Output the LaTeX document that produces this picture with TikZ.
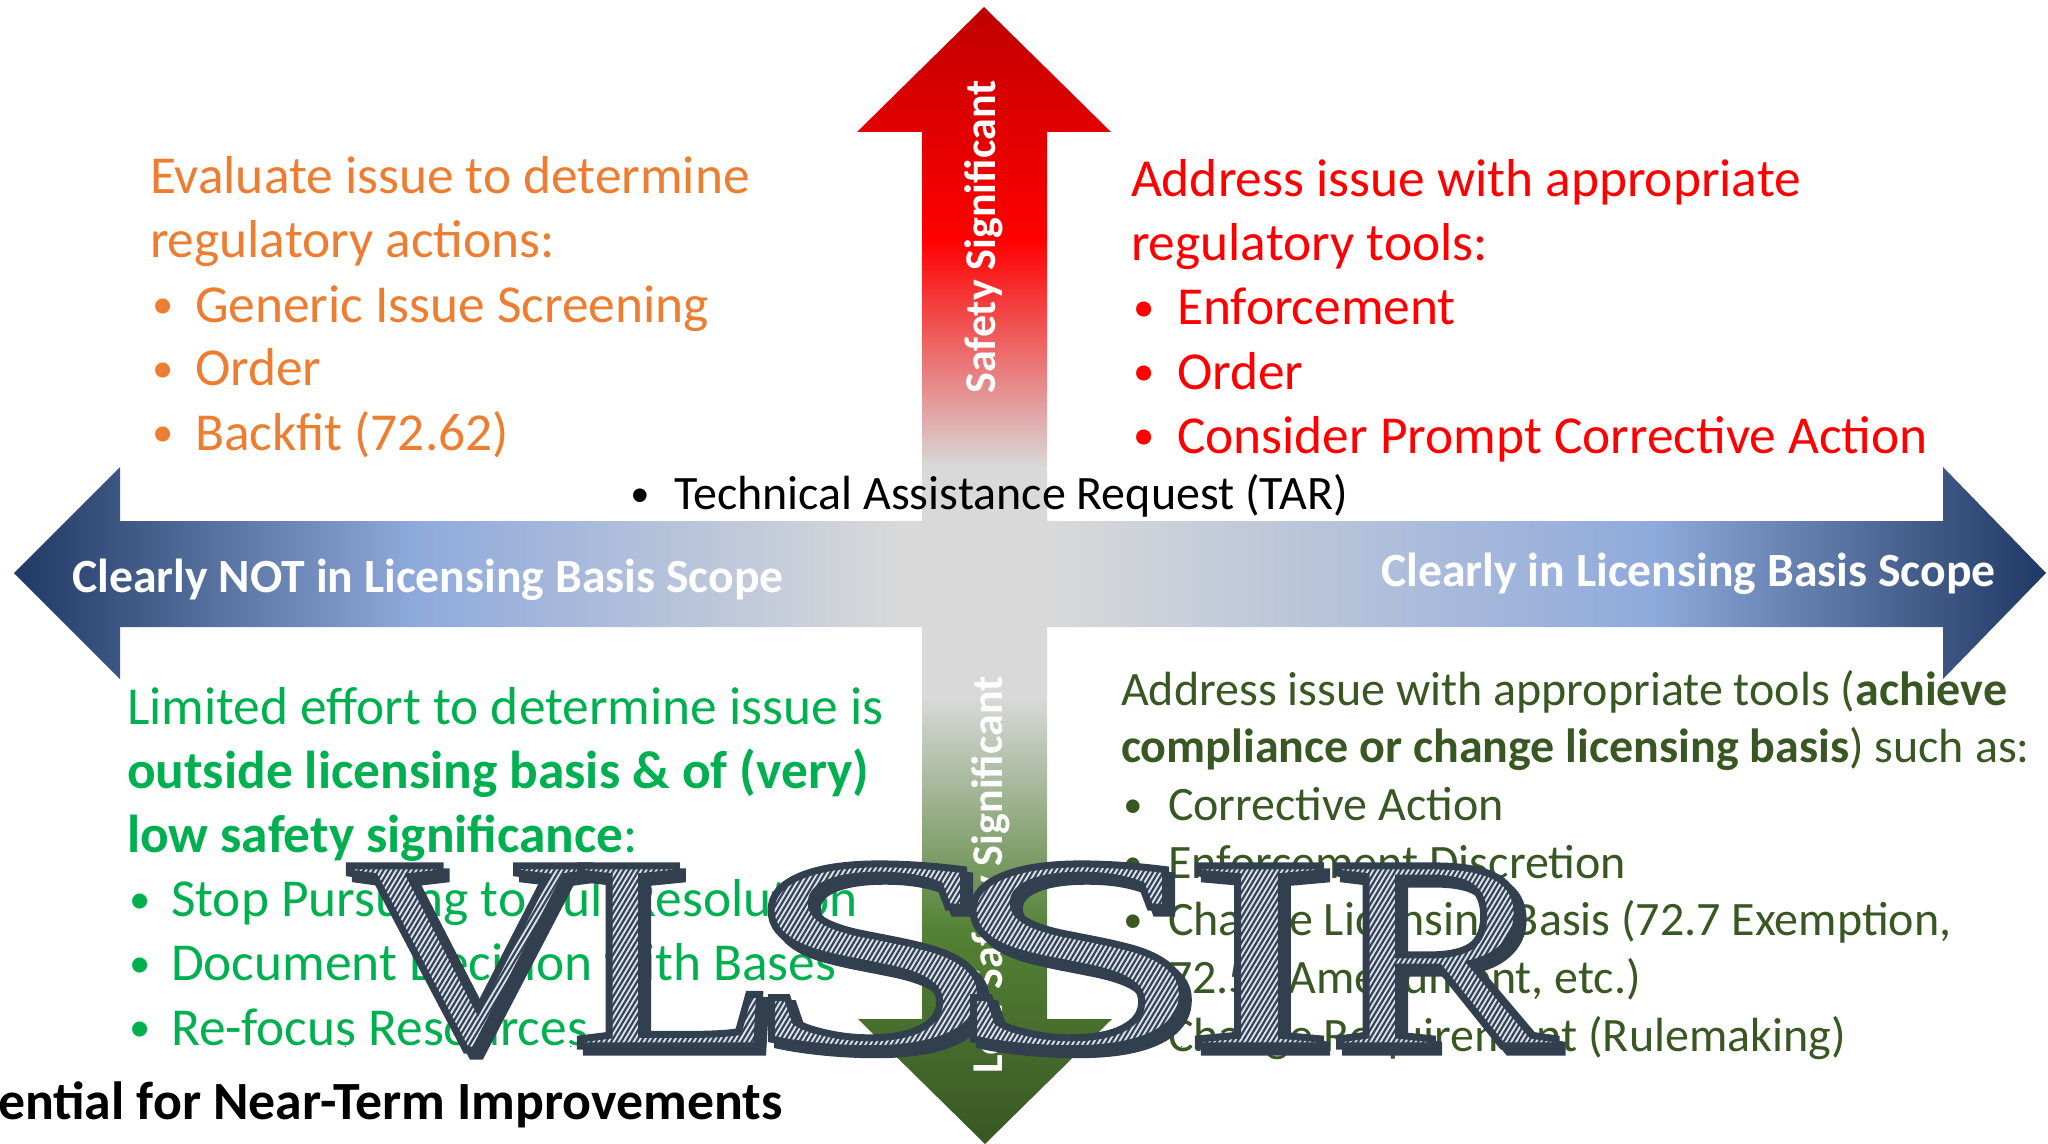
\documentclass[tikz,border=0pt]{standalone}
\usepackage{fontspec}
\usepackage{graphicx}
\setmainfont{Carlito}
\newfontfamily\wmfont[FakeStretch=1.25]{Liberation Serif}
\newfontfamily\wmwide[FakeStretch=1.78]{Liberation Serif}
\newfontfamily\wmmid[FakeStretch=1.7]{Liberation Serif}
\usepackage{xcolor}
\definecolor{navyc}{HTML}{1F3864}
\definecolor{lblue}{HTML}{8FAADC}
\definecolor{lgray}{HTML}{D9D9D9}
\definecolor{dred}{HTML}{C00000}
\definecolor{bred}{HTML}{FF0000}
\definecolor{dgreen}{HTML}{385723}
\definecolor{mgreen}{HTML}{548235}
\definecolor{orangec}{HTML}{ED7D31}
\definecolor{greenc}{HTML}{00B050}
\definecolor{wmdark}{HTML}{323F4F}

% arrow fills, fading to grey at the centre
\pgfdeclarehorizontalshading{lbarshade}{100bp}{color(0bp)=(navyc); color(25bp)=(navyc); color(45.8bp)=(lblue); color(70.7bp)=(lgray); color(100bp)=(lgray)}
\pgfdeclarehorizontalshading{rbarshade}{100bp}{color(0bp)=(lgray); color(28.1bp)=(lgray); color(56.4bp)=(lblue); color(75bp)=(navyc); color(100bp)=(navyc)}
\pgfdeclareverticalshading{ubarshade}{100bp}{color(0bp)=(lgray); color(34.4bp)=(lgray); color(54.5bp)=(bred); color(75bp)=(dred); color(100bp)=(dred)}
\pgfdeclareverticalshading{dbarshade}{100bp}{color(0bp)=(dgreen); color(25bp)=(dgreen); color(43.8bp)=(mgreen); color(64.2bp)=(lgray); color(100bp)=(lgray)}

\newcommand\bigtxt{\fontsize{26.7pt}{31pt}\selectfont}
\newcommand\smalltxt{\fontsize{24pt}{28pt}\selectfont}
\newcommand\bul[1]{\makebox[#1][l]{\hspace{0.05em}\raisebox{0.06em}{\scalebox{0.8}{\textbullet}}}}

% hatched letters of the watermark
\def\hatchstripes{0.87 0.9 0.94 rg -15 -15 190 130 re f 0.22 0.27 0.34 RG 1.1 w}
\foreach \k in {0,...,110}{%
  \pgfmathsetmacro\xa{-85+2.5*\k}%
  \pgfmathsetmacro\xb{\xa+78}%
  \xdef\hatchstripes{\hatchstripes\space\xa\space -15 m \xb\space 115 l}%
}
\xdef\hatchstripes{\hatchstripes\space S}
\newcommand\forcegm{\rlap{\rule{0.01pt}{0.01pt}}}
\newcommand\hatchletter[1]{%
  \rlap{\kern3pt\lower3pt\hbox{\special{pdf:literal direct 2 Tr 3.5 w}#1\special{pdf:literal direct 0 Tr}}}%
  \forcegm\special{pdf:literal direct q 7 Tr}%
  \rlap{#1}%
  \special{pdf:literal direct 0 Tr}\forcegm
  \special{pdf:content \hatchstripes}%
  \special{pdf:literal direct Q}%
  \special{pdf:literal direct 1 Tr 3.5 w}#1\special{pdf:literal direct 0 Tr}\forcegm}

\tikzset{
txtline/.style = {anchor=base west, inner sep=0pt, outer sep=0pt},
orangeline/.style = {txtline, text=orangec, font=\bigtxt},
redline/.style = {txtline, text=bred, font=\bigtxt},
greenline/.style = {txtline, text=greenc, font=\bigtxt},
dgreenline/.style = {txtline, text=dgreen, font=\smalltxt},
barlabel/.style = {inner sep=0pt, text=white, font={\fontsize{23.85pt}{28pt}\selectfont\bfseries}},
vlabel/.style = {inner sep=0pt, rotate=90, anchor=base, text=white, font={\fontsize{22pt}{26pt}\selectfont\bfseries}},
wmark/.style = {anchor=base west, inner sep=0pt, text=wmdark, font={\wmfont\fontsize{137.5pt}{140pt}\selectfont}},
wmwidemark/.style = {wmark, font={\wmwide\fontsize{137.5pt}{140pt}\selectfont}},
wmmidmark/.style = {wmark, font={\wmmid\fontsize{137.5pt}{140pt}\selectfont}}
}

\begin{document}
\begin{tikzpicture}[x=0.5pt,y=-0.5pt]
  \useasboundingbox (0,0) rectangle (2048,1144);

  % Arrows
    \shade[shading=lbarshade] (984,521) -- (120,521) -- (120,467) -- (14,573) -- (120,679) -- (120,627) -- (984,627) -- cycle;
    \shade[shading=rbarshade] (984,521) -- (1943,521) -- (1943,467) -- (2046,573) -- (1943,679) -- (1943,627) -- (984,627) -- cycle;
    \shade[shading=ubarshade] (922,574) -- (922,132) -- (857,132) -- (984,7) -- (1111,132) -- (1047,132) -- (1047,574) -- cycle;
    \shade[shading=dbarshade] (922,574) -- (922,1019) -- (858,1019) -- (985,1144) -- (1112,1019) -- (1047,1019) -- (1047,574) -- cycle;

  % Arrow labels
    \node[vlabel] (safeLbl) at (995,237) {Safety Significant};
    \node[vlabel] (lowLbl) at (1002,875) {Low Safety Significant};
    \node[barlabel, anchor=base west] (notLbl) at (72,592) {Clearly NOT in Licensing Basis Scope};
    \node[barlabel, anchor=base east] (inLbl) at (1996,586) {Clearly in Licensing Basis Scope};

  % Quadrant texts
    \foreach \txt [count=\i from 0] in {Evaluate issue to determine, regulatory actions:,
        \bul{22.5pt}Generic Issue Screening, \bul{22.5pt}Order, \bul{22.5pt}Backfit (72.62)}
      \node[orangeline] (eval\i) at (150,194+64*\i) {\txt};
    \foreach \txt [count=\i from 0] in {Address issue with appropriate, regulatory tools:,
        \bul{23pt}Enforcement, \bul{23pt}Order, \bul{23pt}Consider Prompt Corrective Action}
      \node[redline] (addr\i) at (1131,197+64*\i) {\txt};
    \foreach \txt [count=\i from 0] in {Limited effort to determine issue is,
        \textbf{outside licensing basis \& of (very)}, \textbf{low safety significance}:,
        \bul{22pt}Stop Pursuing to Full Resolution, \bul{22pt}Document Decision with Bases,
        \bul{22pt}Re-focus Resources}
      \node[greenline] (lim\i) at (127,724+64.2*\i) {\txt};
    \foreach \txt [count=\i from 0] in {Address issue with appropriate tools (\textbf{achieve},
        \textbf{compliance or change licensing basis}) such as:,
        \bul{23.5pt}Corrective Action, \bul{23.5pt}Enforcement Discretion,
        {\bul{23.5pt}Change Licensing Basis (72.7 Exemption,},
        {\hspace*{23.5pt}72.56 Amendment, etc.)},
        \bul{23.5pt}Change Requirement (Rulemaking)}
      \node[dgreenline] (tool\i) at (1121,705+57.7*\i) {\txt};
    \node[txtline, font=\smalltxt] (tar) at (628,509) {\bul{23pt}Technical Assistance Request (TAR)};
    \node[txtline, font={\fontsize{26.9pt}{31pt}\selectfont\bfseries}] (caption) at (-2,1119) {ential for Near-Term Improvements};

  % Watermark
    \node[wmark] (wmV) at (345,1046) {\hatchletter{V}};
    \node[wmark] (wmL) at (570,1046) {\hatchletter{L}};
    \node[wmwidemark] (wmSa) at (738,1046) {\hatchletter{S}};
    \node[wmwidemark] (wmSb) at (940,1046) {\hatchletter{S}};
    \node[wmmidmark] (wmI) at (1181,1046) {\hatchletter{I}};
    \node[wmark] (wmR) at (1327,1046) {\hatchletter{R}};
  \end{tikzpicture}
\end{document}
